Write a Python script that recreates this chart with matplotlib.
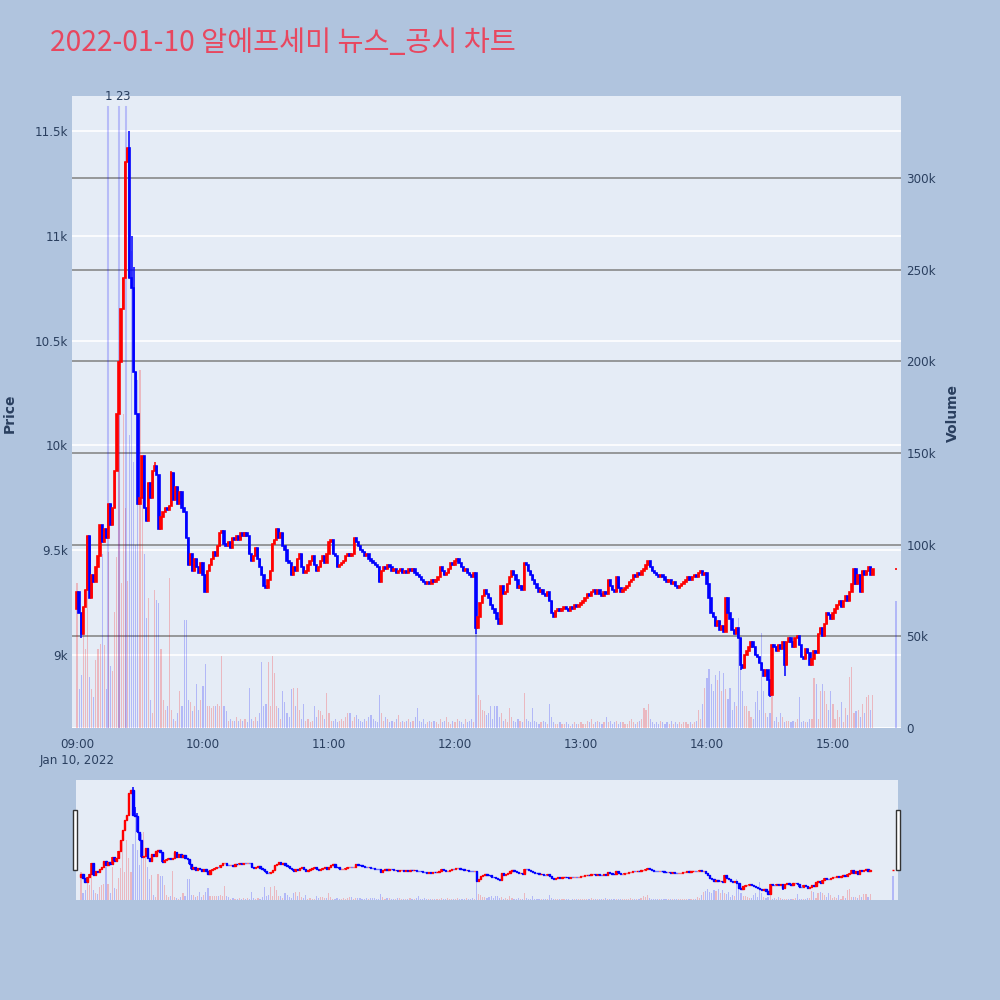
import matplotlib
matplotlib.use("Agg")
import matplotlib.pyplot as plt
from matplotlib.patches import Rectangle

# ---------------- data ----------------
# minute offsets from 09:00 (continuous session 09:00-15:19, closing auction 15:30)
minutes = list(range(380)) + [390]

close = [
    9300, 9200, 9100, 9230, 9310, 9570, 9270, 9380, 9350, 9420,
    9470, 9620, 9540, 9600, 9560, 9720, 9620, 9700, 9880, 10150,
    10400, 10650, 10800, 11350, 11420, 10800, 10750, 10350, 10150, 9720,
    9750, 9950, 9700, 9640, 9820, 9750, 9880, 9900, 9860, 9600,
    9660, 9680, 9700, 9690, 9710, 9870, 9740, 9800, 9720, 9780,
    9700, 9680, 9560, 9430, 9480, 9400, 9460, 9420, 9390, 9440,
    9380, 9300, 9400, 9430, 9460, 9490, 9470, 9520, 9580, 9590,
    9530, 9520, 9540, 9510, 9560, 9550, 9570, 9550, 9580, 9570,
    9580, 9570, 9480, 9450, 9470, 9510, 9460, 9420, 9380, 9330,
    9320, 9360, 9400, 9530, 9550, 9600, 9560, 9580, 9520, 9500,
    9450, 9440, 9380, 9420, 9400, 9460, 9480, 9420, 9390, 9400,
    9430, 9450, 9470, 9430, 9400, 9420, 9450, 9470, 9440, 9480,
    9540, 9550, 9480, 9470, 9420, 9430, 9440, 9450, 9470, 9480,
    9470, 9480, 9560, 9540, 9520, 9500, 9490, 9470, 9480, 9460,
    9450, 9440, 9430, 9420, 9350, 9400, 9420, 9410, 9430, 9420,
    9400, 9410, 9390, 9400, 9410, 9390, 9400, 9390, 9410, 9400,
    9410, 9390, 9380, 9370, 9360, 9350, 9340, 9350, 9340, 9360,
    9350, 9360, 9370, 9420, 9400, 9380, 9390, 9410, 9440, 9430,
    9450, 9460, 9440, 9420, 9400, 9410, 9390, 9380, 9370, 9390,
    9130, 9180, 9250, 9280, 9310, 9290, 9270, 9240, 9220, 9200,
    9170, 9150, 9330, 9290, 9300, 9340, 9370, 9400, 9380, 9360,
    9320, 9330, 9310, 9440, 9430, 9400, 9380, 9360, 9340, 9320,
    9300, 9310, 9290, 9280, 9300, 9260, 9200, 9180, 9210, 9220,
    9210, 9220, 9230, 9220, 9210, 9230, 9220, 9240, 9230, 9240,
    9250, 9260, 9270, 9290, 9280, 9300, 9310, 9290, 9310, 9290,
    9280, 9300, 9290, 9360, 9330, 9310, 9300, 9370, 9320, 9300,
    9310, 9320, 9330, 9350, 9360, 9380, 9370, 9390, 9380, 9400,
    9410, 9430, 9450, 9420, 9400, 9390, 9380, 9370, 9380, 9370,
    9360, 9350, 9360, 9340, 9350, 9330, 9320, 9330, 9340, 9350,
    9360, 9370, 9360, 9370, 9380, 9370, 9390, 9400, 9380, 9390,
    9340, 9270, 9200, 9180, 9140, 9160, 9120, 9140, 9110, 9270,
    9200, 9170, 9120, 9100, 9130, 9080, 8950, 8940, 9000, 9020,
    9040, 9060, 9040, 9000, 8990, 8960, 8930, 8900, 8930, 8880,
    8810, 9050, 9040, 9020, 9050, 9030, 9060, 8950, 9060, 9080,
    9060, 9040, 9080, 9090, 9050, 8990, 8980, 9030, 9010, 8950,
    8980, 9020, 9010, 9100, 9130, 9090, 9150, 9200, 9190, 9170,
    9200, 9220, 9240, 9260, 9230, 9260, 9280, 9260, 9300, 9340,
    9410, 9340, 9380, 9300, 9400, 9380, 9400, 9420, 9380, 9410,
    9410,
]
first_open = 9220
# upper / lower shadows (only where visible)
high_wicks = {25: 11500, 26: 11000, 27: 10850, 29: 10150, 37: 9920, 45: 9880}
low_wicks = {2: 9080, 190: 9100, 316: 8930, 330: 8800, 337: 8900}

# volume in thousands of shares
volume_k = [
    79, 21, 29, 53, 43, 85, 28, 21, 17, 37,
    43, 46, 95, 45, 21, 96, 34, 31, 63, 93,
    200, 79, 171, 120, 80, 160, 260, 145, 100, 190,
    195, 126, 95, 60, 71, 15, 8, 75, 70, 68,
    43, 15, 10, 12, 82, 10, 5, 4, 8, 20,
    12, 59, 59, 15, 14, 9, 12, 24, 10, 15,
    23, 35, 12, 12, 11, 12, 12, 13, 12, 39,
    12, 9, 4, 5, 4, 4, 6, 4, 5, 4,
    5, 3, 22, 5, 4, 6, 4, 8, 36, 12,
    13, 36, 12, 39, 30, 12, 11, 5, 20, 14,
    8, 6, 21, 22, 12, 22, 10, 5, 13, 4,
    5, 3, 4, 12, 6, 10, 9, 7, 5, 19,
    8, 4, 4, 5, 3, 4, 5, 4, 6, 8,
    8, 4, 6, 7, 5, 4, 3, 5, 4, 6,
    7, 5, 4, 3, 18, 8, 4, 6, 5, 3,
    4, 3, 5, 7, 3, 4, 3, 4, 5, 3,
    4, 6, 11, 4, 3, 5, 2, 3, 4, 3,
    4, 3, 2, 5, 3, 4, 6, 3, 2, 4,
    3, 5, 4, 3, 2, 5, 3, 4, 5, 3,
    52, 18, 15, 10, 9, 7, 8, 12, 5, 12,
    12, 6, 8, 4, 5, 3, 11, 6, 4, 3,
    5, 4, 3, 19, 5, 4, 3, 11, 4, 3,
    2, 3, 4, 3, 2, 13, 6, 3, 2, 2,
    3, 2, 2, 3, 2, 1, 2, 3, 2, 2,
    3, 2, 2, 4, 3, 5, 2, 3, 4, 3,
    2, 3, 6, 3, 4, 2, 3, 4, 2, 3,
    3, 2, 2, 4, 5, 3, 2, 3, 4, 5,
    11, 10, 13, 5, 3, 2, 3, 2, 4, 3,
    2, 3, 2, 4, 2, 3, 2, 3, 2, 3,
    3, 2, 3, 2, 3, 4, 10, 5, 13, 22,
    27, 32, 24, 20, 29, 26, 31, 20, 30, 21,
    16, 22, 10, 14, 12, 60, 33, 20, 12, 12,
    9, 6, 5, 14, 20, 10, 52, 20, 8, 6,
    8, 26, 4, 6, 3, 8, 6, 3, 4, 4,
    3, 4, 3, 5, 17, 3, 4, 3, 3, 5,
    5, 27, 24, 5, 20, 24, 20, 13, 10, 20,
    13, 5, 10, 6, 14, 3, 11, 7, 28, 33,
    8, 9, 10, 6, 13, 8, 17, 18, 10, 18,
    69,
]

# news / disclosure markers (minute offsets) and their labels
news_minutes = [15, 20, 23.3]
news_labels = ["1", "2", "3"]

hour_ticks = [0, 60, 120, 180, 240, 300, 360]
hour_labels = ["09:00\nJan 10, 2022", "10:00", "11:00", "12:00", "13:00", "14:00", "15:00"]
price_ticks = [9000, 9500, 10000, 10500, 11000, 11500]
price_labels = ["9k", "9.5k", "10k", "10.5k", "11k", "11.5k"]
vol_ticks = [0, 50000, 100000, 150000, 200000, 250000, 300000]
vol_labels = ["0", "50k", "100k", "150k", "200k", "250k", "300k"]

title = "2022-01-10 알에프세미 뉴스_공시 차트"

# ---------------- derived OHLC ----------------
opens = [first_open] + close[:-1]
highs, lows = [], []
for i, (o, c) in enumerate(zip(opens, close)):
    highs.append(max(high_wicks.get(i, max(o, c)), o, c))
    lows.append(min(low_wicks.get(i, min(o, c)), o, c))
volume = [v * 1000 for v in volume_k]

# ---------------- style ----------------
plt.rcParams['font.family'] = ['DejaVu Sans', 'Noto Sans CJK KR']
FIG_BG = "#B0C4DE"
PLOT_BG = "#E5ECF6"
TXT = "#2a3f5f"
W, H = 1000, 1000

fig = plt.figure(figsize=(10, 10), dpi=100, facecolor=FIG_BG)

XLIM = (-2.38, 392.4)
PLIM = (8651.7, 11667.0)
VLIM = (0, 344700)


def px_rect(x0, y0, x1, y1):
    return [x0 / W, 1 - y1 / H, (x1 - x0) / W, (y1 - y0) / H]


def draw_candles(ax, lw_body=1.2, width=0.65):
    for x, o, h, l, c in zip(minutes, opens, highs, lows, close):
        col = "#FF0000" if c >= o else "#0000FF"
        ax.vlines(x, l, h, color=col, linewidth=1.1, zorder=3)
        ax.bar(x, max(abs(c - o), 0.1), bottom=min(o, c), width=width,
               color=col, edgecolor=col, linewidth=lw_body, zorder=3)


def draw_volume(ax, width=0.55):
    cols = ["#FF0000" if c > o else "#0000FF" for o, c in zip(opens, close)]
    ax.bar(minutes, volume, width=width, color=cols, alpha=0.22, linewidth=0, zorder=2)


def setup_pair(rect):
    a_p = fig.add_axes(rect)
    a_v = a_p.twinx()
    a_p.set_zorder(2)
    a_v.set_zorder(1)
    a_p.patch.set_visible(False)
    a_v.patch.set_visible(True)
    a_v.patch.set_facecolor(PLOT_BG)
    for a in (a_p, a_v):
        a.set_xlim(*XLIM)
        for s in a.spines.values():
            s.set_visible(False)
    a_p.set_ylim(*PLIM)
    a_v.set_ylim(*VLIM)
    return a_p, a_v


# ---------------- main panel ----------------
ax_p, ax_v = setup_pair(px_rect(72, 96, 901, 728))

# white price grid drawn on the lower (volume) axes
for p in price_ticks:
    f = (p - PLIM[0]) / (PLIM[1] - PLIM[0])
    ax_v.plot([0, 1], [f, f], transform=ax_v.transAxes, color="white", lw=1.2, zorder=0.5)
ax_v.plot([0, 1], [0, 0], transform=ax_v.transAxes, color="white", lw=2, zorder=0.5)
# gray volume grid
for v in vol_ticks[1:]:
    ax_v.axhline(v, color="#808080", lw=1.1, zorder=1)

draw_volume(ax_v)
for m in news_minutes:
    ax_v.plot([m, m], [0, 0.9826], transform=ax_v.get_xaxis_transform(),
              color="#0000FF", alpha=0.2, lw=1.5, zorder=2.5)
for m, lab in zip(news_minutes, news_labels):
    ax_p.text(m, 1.0, lab, transform=ax_p.get_xaxis_transform(), ha="center", va="center",
              fontsize=8.6, color=TXT, zorder=5)

draw_candles(ax_p)

ax_p.set_yticks(price_ticks)
ax_p.set_yticklabels(price_labels)
ax_v.set_yticks(vol_ticks)
ax_v.set_yticklabels(vol_labels)
ax_p.set_xticks(hour_ticks)
ax_p.set_xticklabels(hour_labels, linespacing=1.3)
ax_p.tick_params(axis="y", length=0, pad=3, labelsize=8.6, labelcolor=TXT)
ax_v.tick_params(axis="y", length=0, pad=4, labelsize=8.6, labelcolor=TXT)
ax_p.tick_params(axis="x", length=0, pad=7, labelsize=8.6, labelcolor=TXT)
ax_v.tick_params(axis="x", length=0, labelbottom=False)

fig.text(10 / W, 1 - 413 / H, "Price", rotation=90, ha="center", va="center",
         fontsize=10, fontweight="bold", color=TXT)
fig.text(953 / W, 1 - 413 / H, "Volume", rotation=90, ha="center", va="center",
         fontsize=10, fontweight="bold", color=TXT)

fig.text(50 / W, 1 - 51 / H, title, ha="left", va="baseline", fontsize=20.4,
         color="#E8475F", family=["Noto Sans CJK KR", "DejaVu Sans"])

# ---------------- range slider ----------------
rs_p, rs_v = setup_pair(px_rect(76, 780, 898, 900))
for a in (rs_p, rs_v):
    a.set_xticks([])
    a.set_yticks([])
draw_volume(rs_v)
draw_candles(rs_p, lw_body=1.0, width=0.6)

for x0 in (73, 896):
    fig.add_artist(Rectangle((x0 / W, 1 - 870 / H), 4 / W, 60 / H, transform=fig.transFigure,
                             facecolor="white", edgecolor="#333333", lw=1.0, zorder=10))

fig.savefig("out.png", dpi=100, facecolor=FIG_BG)
